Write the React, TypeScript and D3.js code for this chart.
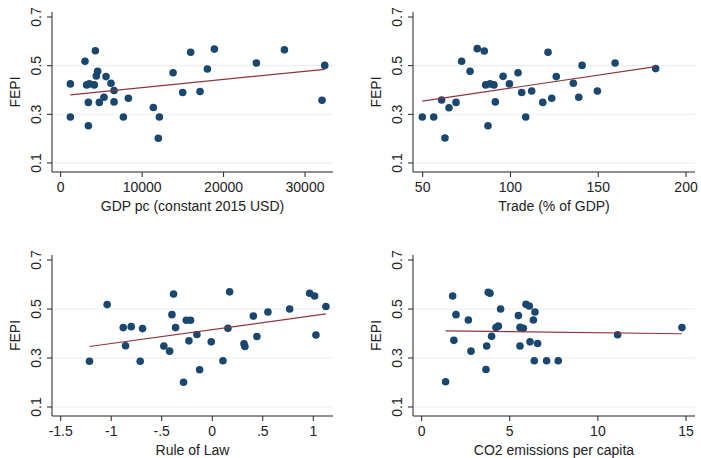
import React, { useEffect, useRef } from 'react';
import * as d3 from 'd3';

// FEPI vs. four covariates
const gdpX = [1190, 1190, 2990, 3190, 3400, 3400, 3520, 4130, 4260, 4380, 4540, 4750, 5320, 5570, 6180, 6550, 6550, 7700, 8310, 11380, 12120, 11990, 13800, 14980, 15960, 17110, 18010, 18870, 24030, 27470, 32090, 32420];
const gdpY = [0.425, 0.289, 0.518, 0.421, 0.349, 0.253, 0.425, 0.421, 0.561, 0.458, 0.477, 0.349, 0.37, 0.455, 0.428, 0.398, 0.351, 0.289, 0.366, 0.328, 0.289, 0.202, 0.471, 0.39, 0.555, 0.394, 0.486, 0.568, 0.511, 0.565, 0.358, 0.501];
const gdpFit = [0.38, 0.485];

const tradeX = [49.8, 56.3, 62.7, 60.8, 65.0, 69.0, 72.2, 77.0, 81.1, 85.1, 85.9, 88.4, 90.6, 87.2, 91.4, 95.8, 99.4, 104.3, 106.4, 108.7, 112.1, 118.4, 121.4, 123.5, 126.1, 135.8, 138.9, 140.8, 149.5, 159.6, 182.7];
const tradeY = [0.289, 0.289, 0.203, 0.359, 0.327, 0.349, 0.518, 0.477, 0.57, 0.56, 0.421, 0.425, 0.421, 0.253, 0.351, 0.456, 0.425, 0.471, 0.39, 0.289, 0.396, 0.349, 0.555, 0.366, 0.455, 0.428, 0.37, 0.501, 0.396, 0.511, 0.488];
const tradeFit = [0.354, 0.496];

const lawX = [-1.215, -1.04, -0.881, -0.802, -0.69, -0.858, -0.713, -0.479, -0.422, -0.383, -0.399, -0.363, -0.257, -0.215, -0.231, -0.284, -0.152, -0.125, -0.01, 0.106, 0.155, 0.172, 0.314, 0.323, 0.406, 0.442, 0.551, 0.766, 0.964, 1.013, 1.026, 1.125];
const lawY = [0.287, 0.518, 0.424, 0.428, 0.42, 0.35, 0.287, 0.349, 0.328, 0.561, 0.477, 0.424, 0.454, 0.454, 0.37, 0.201, 0.396, 0.252, 0.366, 0.289, 0.421, 0.57, 0.358, 0.347, 0.471, 0.388, 0.488, 0.5, 0.564, 0.553, 0.394, 0.51];
const lawFit = [0.347, 0.48];

const co2X = [1.36, 1.76, 1.95, 1.83, 2.65, 2.8, 3.69, 3.65, 3.78, 3.88, 3.97, 4.22, 4.35, 4.48, 5.49, 5.58, 5.58, 5.77, 5.92, 6.11, 6.43, 6.34, 6.15, 6.58, 6.39, 7.09, 7.75, 11.12, 14.77];
const co2Y = [0.203, 0.553, 0.477, 0.372, 0.455, 0.328, 0.349, 0.253, 0.568, 0.564, 0.389, 0.424, 0.43, 0.5, 0.473, 0.349, 0.425, 0.421, 0.519, 0.512, 0.488, 0.455, 0.366, 0.359, 0.289, 0.289, 0.289, 0.395, 0.424];
const co2Fit = [0.411, 0.399];

const fepiTicks = [0.1, 0.3, 0.5, 0.7];
const gdpTicks = [0, 10000, 20000, 30000];
const tradeTicks = [50, 100, 150, 200];
const lawTicks = [-1.5, -1, -0.5, 0, 0.5, 1];
const lawTickLabels = ['-1.5', '-1', '-.5', '0', '.5', '1'];
const co2Ticks = [0, 5, 10, 15];

const panels = [
    { xs: gdpX, ys: gdpY, fit: gdpFit, ticks: gdpTicks, labels: null, domain: [-1064, 33434], title: 'GDP pc (constant 2015 USD)', left: 52, right: 333, y01: 163, y07: 17 },
    { xs: tradeX, ys: tradeY, fit: tradeFit, ticks: tradeTicks, labels: null, domain: [44.5, 205.1], title: 'Trade (% of GDP)', left: 413, right: 695, y01: 163, y07: 17 },
    { xs: lawX, ys: lawY, fit: lawFit, ticks: lawTicks, labels: lawTickLabels, domain: [-1.586, 1.195], title: 'Rule of Law', left: 52, right: 333, y01: 407, y07: 260 },
    { xs: co2X, ys: co2Y, fit: co2Fit, ticks: co2Ticks, labels: null, domain: [-0.49, 15.51], title: 'CO2 emissions per capita', left: 413, right: 695, y01: 407, y07: 260 },
];

const NAVY = '#1a476f';
const MAROON = '#90353b';
const FONT = '"Liberation Sans", Arial, Helvetica, sans-serif';

const App = () => {
    const svgRef = useRef(null);

    useEffect(() => {
        const svg = d3.select(svgRef.current);
        svg.selectAll('*').remove();

        svg.append('rect').attr('width', 701).attr('height', 458).attr('fill', '#fff');

        panels.forEach(p => {
            const g = svg.append('g');
            const x = d3.scaleLinear().domain(p.domain).range([p.left, p.right]);
            const y = d3.scaleLinear().domain([0.1, 0.7]).range([p.y01, p.y07]);
            const bottom = p.y01 + 9;
            const top = p.y07 - 5;

            // grid
            fepiTicks.filter(t => t < 0.7).forEach(t => {
                g.append('line')
                    .attr('x1', p.left).attr('x2', p.right)
                    .attr('y1', y(t)).attr('y2', y(t))
                    .attr('stroke', '#e6eef0').attr('stroke-width', 1);
            });

            // y axis
            g.append('line').attr('x1', p.left).attr('x2', p.left).attr('y1', top).attr('y2', bottom)
                .attr('stroke', '#222').attr('stroke-width', 1);
            fepiTicks.forEach(t => {
                g.append('line').attr('x1', p.left - 5).attr('x2', p.left).attr('y1', y(t)).attr('y2', y(t))
                    .attr('stroke', '#222');
                g.append('text')
                    .attr('transform', `translate(${p.left - 11},${y(t)}) rotate(-90)`)
                    .attr('text-anchor', 'middle')
                    .style('font-family', FONT).style('font-size', '14px').style('fill', '#222')
                    .text(t.toFixed(1));
            });
            g.append('text')
                .attr('transform', `translate(${p.left - 32},${(top + bottom) / 2}) rotate(-90)`)
                .attr('text-anchor', 'middle')
                .style('font-family', FONT).style('font-size', '14px').style('fill', '#222')
                .text('FEPI');

            // x axis
            g.append('line').attr('x1', p.left).attr('x2', p.right).attr('y1', bottom).attr('y2', bottom)
                .attr('stroke', '#222');
            p.ticks.forEach((t, i) => {
                g.append('line').attr('x1', x(t)).attr('x2', x(t)).attr('y1', bottom).attr('y2', bottom + 5)
                    .attr('stroke', '#222');
                g.append('text')
                    .attr('x', x(t)).attr('y', bottom + 20)
                    .attr('text-anchor', 'middle')
                    .style('font-family', FONT).style('font-size', '14px').style('fill', '#222')
                    .text(p.labels ? p.labels[i] : String(t));
            });
            g.append('text')
                .attr('x', (p.left + p.right) / 2).attr('y', bottom + 39)
                .attr('text-anchor', 'middle')
                .style('font-family', FONT).style('font-size', '14px').style('fill', '#222')
                .text(p.title);

            // dots
            g.selectAll('circle.dot')
                .data(p.xs.map((v, i) => [v, p.ys[i]]))
                .enter()
                .append('circle')
                .attr('cx', d => x(d[0]))
                .attr('cy', d => y(d[1]))
                .attr('r', 3.8)
                .attr('fill', NAVY);

            // fitted line over the data range
            const ext = d3.extent(p.xs);
            g.append('path')
                .datum([[ext[0], p.fit[0]], [ext[1], p.fit[1]]])
                .attr('fill', 'none')
                .attr('stroke', MAROON)
                .attr('stroke-width', 1.2)
                .attr('d', d3.line().x(d => x(d[0])).y(d => y(d[1])));
        });
    }, []);

    return (
        <svg ref={svgRef} width={701} height={458} style={{ position: 'absolute', left: 0, top: 0, display: 'block' }}></svg>
    );
};

export default App;
